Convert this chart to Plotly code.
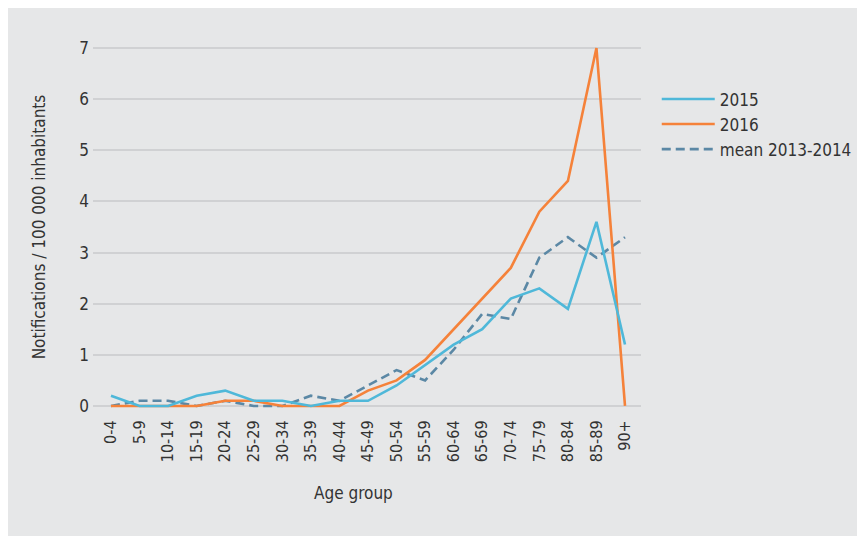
import plotly.graph_objects as go

age_groups = ["0-4", "5-9", "10-14", "15-19", "20-24", "25-29", "30-34", "35-39",
              "40-44", "45-49", "50-54", "55-59", "60-64", "65-69", "70-74", "75-79",
              "80-84", "85-89", "90+"]
y2015 = [0.2, 0.0, 0.0, 0.2, 0.3, 0.1, 0.1, 0.0, 0.1, 0.1, 0.4, 0.8, 1.2, 1.5, 2.1, 2.3, 1.9, 3.6, 1.2]
y2016 = [0.0, 0.0, 0.0, 0.0, 0.1, 0.1, 0.0, 0.0, 0.0, 0.3, 0.5, 0.9, 1.5, 2.1, 2.7, 3.8, 4.4, 7.0, 0.0]
ymean = [0.0, 0.1, 0.1, 0.0, 0.1, 0.0, 0.0, 0.2, 0.1, 0.4, 0.7, 0.5, 1.1, 1.8, 1.7, 2.9, 3.3, 2.9, 3.3]
y_ticks = [0, 1, 2, 3, 4, 5, 6, 7]

FONT = "Liberation Sans Narrow, DejaVu Sans Condensed, Arial Narrow, sans-serif"
TXT = "#333333"
BG = "#e6e7e8"

fig = go.Figure()
fig.add_trace(go.Scatter(x=age_groups, y=ymean, mode="lines", name="mean 2013-2014",
                         line=dict(color="#5b88a5", width=2.6, dash="9px,5px")))
fig.add_trace(go.Scatter(x=age_groups, y=y2016, mode="lines", name="2016",
                         line=dict(color="#f5823a", width=2.6)))
fig.add_trace(go.Scatter(x=age_groups, y=y2015, mode="lines", name="2015",
                         line=dict(color="#4fb8d9", width=2.6)))

fig.add_annotation(text="Age group", xref="paper", yref="paper",
                   x=(345 - 85) / 548, y=-(485 - 401) / 364,
                   xanchor="center", yanchor="middle", showarrow=False,
                   font=dict(size=17, family=FONT, color=TXT))

fig.update_layout(
    width=857, height=528,
    margin=dict(l=85, r=224, t=37, b=127, autoexpand=False),
    paper_bgcolor=BG, plot_bgcolor=BG,
    font=dict(family=FONT, color=TXT, size=16),
    showlegend=True,
    legend=dict(xref="container", yref="container", x=0.757, y=0.861,
                xanchor="left", yanchor="top", traceorder="reversed",
                bgcolor="rgba(0,0,0,0)", font=dict(size=17, family=FONT, color=TXT),
                itemwidth=53, tracegroupgap=0),
    xaxis=dict(type="category", range=[-0.63, 18.56], tickangle=-90,
               showgrid=False, zeroline=False, showline=False,
               ticks="outside", ticklen=4, tickcolor=BG,
               tickfont=dict(size=16, family=FONT, color=TXT)),
    yaxis=dict(range=[-0.06, 7.06], tickvals=y_ticks, showgrid=True, gridcolor="#d0d1d3",
               gridwidth=1.5, zeroline=False, showline=False, ticks="",
               ticklabelstandoff=3,
               tickfont=dict(size=17, family=FONT, color=TXT),
               title=dict(text="Notifications / 100 000 inhabitants",
                          font=dict(size=17, family=FONT, color=TXT), standoff=29)),
)

fig.write_html("out.html")
